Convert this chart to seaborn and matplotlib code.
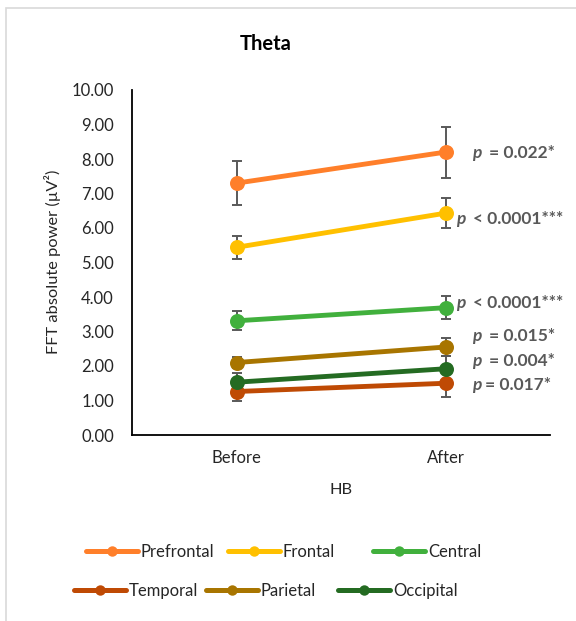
import matplotlib
matplotlib.use("Agg")
import matplotlib.pyplot as plt
from matplotlib.lines import Line2D
from matplotlib.patches import Rectangle
import seaborn as sns
import pandas as pd
import numpy as np

# ---- data ----
conditions = ["Before", "After"]
regions = ["Prefrontal", "Frontal", "Central", "Temporal", "Parietal", "Occipital"]
before_vals = [7.30, 5.44, 3.31, 1.26, 2.10, 1.53]
after_vals = [8.20, 6.43, 3.69, 1.50, 2.55, 1.92]
before_err = [0.64, 0.33, 0.27, 0.27, 0.17, 0.27]
after_err = [0.74, 0.43, 0.33, 0.41, 0.25, 0.37]
p_texts = ["= 0.022*", "< 0.0001***", "< 0.0001***",
           "= 0.017*", "= 0.015*", "= 0.004*"]
colors = ["#FF7F2A", "#FFC000", "#41B03D", "#BF4A04", "#A87500", "#246B22"]

# label placement (style)
label_y = [8.17, 6.26, 3.83, 1.45, 2.86, 2.14]
label_px = [472, 456, 456, 472, 472, 472]
label_gap = [17, 17, 17, 13, 17, 17]

sns.set_theme(style="white")
plt.rcParams["font.family"] = ["Lato", "DejaVu Sans"]

W, H = 576, 621
fig = plt.figure(figsize=(W / 100, H / 100), dpi=100)
ax = fig.add_axes([132 / W, 1 - 435 / H, (550 - 132) / W, (435 - 90) / H])

rows = []
for r, b, a in zip(regions, before_vals, after_vals):
    rows.append({"HB": conditions[0], "power": b, "region": r})
    rows.append({"HB": conditions[1], "power": a, "region": r})
df = pd.DataFrame(rows)

# error bars (behind)
for i, r in enumerate(regions):
    ax.errorbar([0, 1], [before_vals[i], after_vals[i]],
                yerr=[before_err[i], after_err[i]], fmt="none",
                ecolor="#595959", elinewidth=1.4, capsize=3.6, capthick=1.4,
                zorder=1)

sns.pointplot(data=df, x="HB", y="power", hue="region", order=conditions,
              hue_order=regions, palette=colors, markers="o", linestyles="-",
              errorbar=None, dodge=False, markersize=10.5, linewidth=3.5,
              ax=ax, legend=False)
for ln in ax.lines:
    if ln.get_marker() == "o":
        ln.set_zorder(3)
        ln.set_markeredgewidth(0)
        ln.set_markersize(10.8)

ax.set_xlim(-0.5, 1.5)
ax.set_ylim(0, 10)
ax.set_yticks(np.arange(0, 10.01, 1))
ax.set_yticklabels([f"{v:.2f}" for v in np.arange(0, 10.01, 1)])
ax.tick_params(axis="y", length=0, pad=13, labelcolor="#262626")
ax.tick_params(axis="x", length=0, pad=11, labelcolor="#262626")
for lbl in ax.get_yticklabels() + ax.get_xticklabels():
    lbl.set_fontsize(12)
ax.set_xlabel("")
ax.set_ylabel("")
for s in ["top", "right"]:
    ax.spines[s].set_visible(False)
for s in ["left", "bottom"]:
    ax.spines[s].set_color("black")
    ax.spines[s].set_linewidth(1.3)
ax.grid(False)

# p-value annotations
for i in range(len(regions)):
    yfig = ax.transData.transform((0, label_y[i]))[1]
    xf = label_px[i] / W
    yf = yfig / H
    fig.text(xf, yf, "p", style="italic", fontweight="bold", color="#595959",
             fontsize=12.5, va="center", ha="left")
    fig.text((label_px[i] + label_gap[i]) / W, yf, p_texts[i], fontweight="bold",
             color="#595959", fontsize=12.5, va="center", ha="left")

# titles / labels
fig.text(266 / W, 1 - 44 / H, "Theta", fontweight="bold", fontsize=14.5,
         ha="center", va="center", color="black")
fig.text(53 / W, 1 - 262 / H, "FFT absolute power (µV²)", rotation=90,
         fontsize=11.8, ha="center", va="center", color="#262626")
fig.text(341 / W, 1 - 490 / H, "HB", fontsize=11.8, ha="center", va="center",
         color="#262626")

# legend entries
leg_pos = [(86, 552), (228, 552), (373, 552), (74, 591), (206, 591), (338, 591)]
for i, r in enumerate(regions):
    h = Line2D([], [], color=colors[i], lw=3.6, marker="o", markersize=7.5,
               markeredgewidth=0)
    lg = fig.legend(handles=[h], labels=[r], loc="center left",
                    bbox_to_anchor=(leg_pos[i][0] / W, 1 - leg_pos[i][1] / H),
                    frameon=False, borderpad=0, borderaxespad=0,
                    handlelength=3.1, handletextpad=0.2, fontsize=12)
    for t in lg.get_texts():
        t.set_color("#262626")

# frame border
fig.patches.append(Rectangle((6 / W, -0.1), 1.2, 1 - 8 / H + 0.1,
                             transform=fig.transFigure, fill=False,
                             edgecolor="#D9D9D9", lw=1.2))

fig.savefig("out.png", dpi=100)
